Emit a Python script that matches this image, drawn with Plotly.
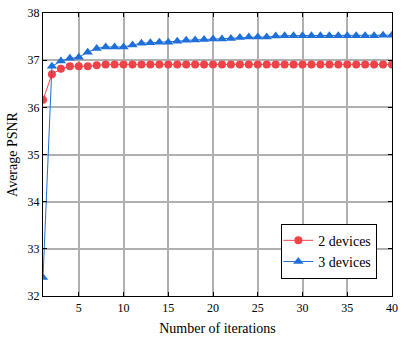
import plotly.graph_objects as go

iterations = list(range(1, 41))
psnr_2dev = [36.16, 36.70, 36.82, 36.87, 36.87, 36.87, 36.89, 36.91, 36.91, 36.91,
             36.91, 36.91, 36.91, 36.91, 36.91, 36.91, 36.91, 36.91, 36.91, 36.91,
             36.91, 36.91, 36.91, 36.91, 36.91, 36.91, 36.91, 36.91, 36.91, 36.91,
             36.91, 36.91, 36.91, 36.91, 36.91, 36.91, 36.91, 36.91, 36.91, 36.91]
psnr_3dev = [32.39, 36.87, 36.98, 37.04, 37.06, 37.17, 37.25, 37.28, 37.28, 37.28,
             37.32, 37.36, 37.37, 37.38, 37.38, 37.40, 37.42, 37.43, 37.44, 37.45,
             37.45, 37.46, 37.48, 37.49, 37.49, 37.49, 37.51, 37.52, 37.52, 37.52,
             37.52, 37.52, 37.52, 37.52, 37.52, 37.52, 37.52, 37.52, 37.53, 37.53]
x_ticks = [5, 10, 15, 20, 25, 30, 35, 40]
y_ticks = [32, 33, 34, 35, 36, 37, 38]

RED = "#F04349"
BLUE = "#1F6FDA"
FONT = "Times New Roman, Liberation Serif, serif"

fig = go.Figure()
fig.add_trace(go.Scatter(x=iterations, y=psnr_2dev, mode="lines+markers", name="2 devices",
                         line=dict(color=RED, width=1),
                         marker=dict(symbol="circle", size=8, color=RED)))
fig.add_trace(go.Scatter(x=iterations, y=psnr_3dev, mode="lines+markers", name="3 devices",
                         line=dict(color=BLUE, width=1),
                         marker=dict(symbol="triangle-up", size=9, color=BLUE)))

axis_common = dict(showline=True, linecolor="black", linewidth=1.2, mirror="ticks",
                   ticks="inside", ticklen=4, tickcolor="black",
                   showgrid=True, gridcolor="#B0B0B0", gridwidth=1.5,
                   zeroline=False, ticklabeloverflow="allow",
                   tickfont=dict(family=FONT, size=12, color="black"))

fig.update_xaxes(range=[1, 40], tickvals=x_ticks,
                 title=dict(text="Number of iterations", font=dict(family=FONT, size=14, color="black"), standoff=9),
                 **axis_common)
fig.update_yaxes(range=[32, 38], tickvals=y_ticks,
                 title=dict(text="Average PSNR", font=dict(family=FONT, size=14, color="black"), standoff=6),
                 **axis_common)

fig.update_layout(
    width=404, height=339,
    margin=dict(l=43, r=6, t=13, b=41),
    paper_bgcolor="white", plot_bgcolor="white",
    font=dict(family=FONT, color="black"),
    legend=dict(x=0.958, y=0.061, xanchor="right", yanchor="bottom",
                bgcolor="white", bordercolor="black", borderwidth=1,
                font=dict(family=FONT, size=14, color="black"),
                tracegroupgap=0, itemwidth=30, indentation=-4),
    showlegend=True,
)

fig.write_html("out.html",
               config={"displayModeBar": False},
               post_script="document.body.style.margin='0';document.body.style.padding='0';")
